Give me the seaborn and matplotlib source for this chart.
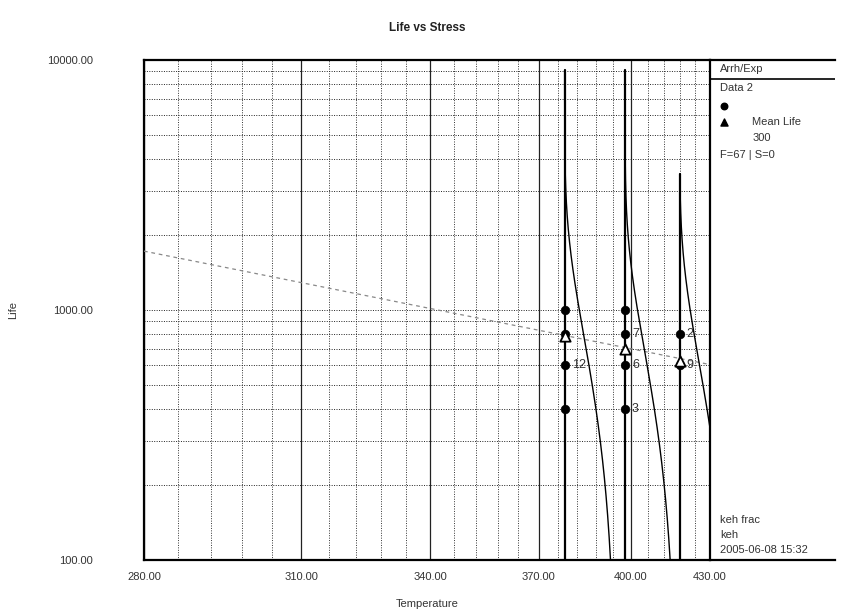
import numpy as np
import pandas as pd
import matplotlib
matplotlib.use("Agg")
import matplotlib.pyplot as plt
import seaborn as sns
from matplotlib.ticker import FixedLocator, FuncFormatter, LogLocator, NullFormatter

# ---------------- data ----------------
stress = [378, 378, 378, 378, 398, 398, 398, 398, 418, 418]
life = [1000, 800, 600, 400, 1000, 800, 600, 400, 800, 600]
point_labels = ["", "", "12", "", "", "7", "6", "3", "2", "9"]

stress_levels = [378, 398, 418]
mean_life = [790, 700, 625]
pdf_top = [9100, 9100, 3500]

line_T = [280, 430]
line_L = [1720, 605]

x_ticks = [280, 310, 340, 370, 400, 430]
y_ticks = [100, 1000, 10000]

# ---------------- style ----------------
sns.set_style("white")
plt.rcParams["font.family"] = ["Liberation Sans", "DejaVu Sans"]

fig = plt.figure(figsize=(8.42, 6.16), dpi=100)
W, H = 842, 616
ax = fig.add_axes([144 / W, 56 / H, 566 / W, 500 / H])


def fwd(T):
    with np.errstate(divide="ignore", invalid="ignore"):
        return -1.0 / np.asarray(T, dtype=float)


def inv(u):
    with np.errstate(divide="ignore", invalid="ignore"):
        return -1.0 / np.asarray(u, dtype=float)


ax.set_xscale("function", functions=(fwd, inv))
ax.set_yscale("log")
ax.set_xlim(280, 430)
ax.set_ylim(100, 10000)

minor_x = [t for t in range(280, 431, 6) if t not in x_ticks]
ax.xaxis.set_major_locator(FixedLocator(x_ticks))
ax.xaxis.set_minor_locator(FixedLocator(minor_x))
ax.xaxis.set_major_formatter(FuncFormatter(lambda v, p: f"{v:.2f}"))
ax.xaxis.set_minor_formatter(NullFormatter())
ax.yaxis.set_major_locator(FixedLocator(y_ticks))
ax.yaxis.set_minor_locator(LogLocator(base=10, subs=np.arange(2, 10)))
ax.yaxis.set_major_formatter(FuncFormatter(lambda v, p: f"{v:.2f}"))
ax.yaxis.set_minor_formatter(NullFormatter())

ax.grid(which="major", axis="x", color="#222222", lw=0.9, ls="-")
ax.grid(which="minor", axis="x", color="#333333", lw=0.7, ls=(0, (1, 1.5)))
ax.grid(which="both", axis="y", color="#222222", lw=0.7, ls=(0, (1, 1.5)))

ax.tick_params(axis="both", which="major", direction="out", length=6, width=1,
               color="black", labelsize=8, labelcolor="#333333")
ax.tick_params(axis="x", which="major", pad=3)
ax.tick_params(axis="y", which="major", pad=31)
ax.tick_params(which="minor", length=0)

for side in ["left", "bottom", "top"]:
    ax.spines[side].set_visible(True)
    ax.spines[side].set_color("black")
    ax.spines[side].set_linewidth(1.6)
ax.spines["right"].set_visible(False)

# fitted life line
ax.plot(line_T, line_L, color="#888888", lw=0.9, ls=(0, (3, 3)), zorder=3)

# pdf curves (exponential distribution with the mean life at each stress)
k = 0.0001145
for Ti, m, top in zip(stress_levels, mean_life, pdf_top):
    t = np.geomspace(100, top, 300)
    u = 1.0 / Ti - k * np.exp(-t / m)
    ax.plot(1.0 / u, t, color="black", lw=1.0, zorder=4)
    ax.plot([Ti, Ti], [100, top], color="black", lw=1.6, zorder=4)

# failure points
df = pd.DataFrame({"Temperature": stress, "Life": life})
sns.scatterplot(data=df, x="Temperature", y="Life", marker="o", s=38,
                color="black", edgecolor="black", ax=ax, zorder=6, legend=False)
for T, L, lab in zip(stress, life, point_labels):
    if lab:
        ax.annotate(lab, (T, L), xytext=(5, 0), textcoords="offset points",
                    va="center", ha="left", fontsize=9, color="#333333", zorder=7)

# mean life
dm = pd.DataFrame({"Temperature": stress_levels, "Life": mean_life})
sns.scatterplot(data=dm, x="Temperature", y="Life", marker="^", s=55,
                facecolor="white", edgecolor="black", linewidth=1.3, ax=ax,
                zorder=7, legend=False)

ax.set_xlabel("")
ax.set_ylabel("")

# titles / axis labels
fig.text(427 / W, 1 - 28 / H, "Life vs Stress", ha="center", va="center",
         fontsize=8.5, fontweight="bold", color="#222222")
fig.text(427 / W, 1 - 604 / H, "Temperature", ha="center", va="center",
         fontsize=8, color="#333333")
fig.text(13 / W, 1 - 310 / H, "Life", ha="center", va="center", rotation=90,
         fontsize=8, color="#333333")

# legend panel
lx = fig.add_axes([710 / W, 56 / H, 125 / W, 500 / H])
lx.set_xlim(0, 1)
lx.set_ylim(0, 1)
lx.set_xticks([])
lx.set_yticks([])
lx.set_facecolor("white")
for side in ["left", "bottom", "top"]:
    lx.spines[side].set_visible(True)
    lx.spines[side].set_color("black")
    lx.spines[side].set_linewidth(1.6)
lx.spines["right"].set_visible(False)
lx.plot([0, 1], [0.962, 0.962], color="black", lw=1.2)

fs = 8
tc = "#333333"
lx.text(0.08, 0.981, "Arrh/Exp", fontsize=fs, va="center", color=tc)
lx.text(0.08, 0.944, "Data 2", fontsize=fs, va="center", color=tc)
lx.scatter([0.11], [0.908], marker="o", s=22, color="black")
lx.scatter([0.11], [0.876], marker="^", s=26, color="black")
lx.text(0.34, 0.876, "Mean Life", fontsize=fs, va="center", color=tc)
lx.text(0.34, 0.844, "300", fontsize=fs, va="center", color=tc)
lx.text(0.08, 0.810, "F=67 | S=0", fontsize=fs, va="center", color=tc)
lx.text(0.08, 0.080, "keh frac", fontsize=fs, va="center", color=tc)
lx.text(0.08, 0.050, "keh", fontsize=fs, va="center", color=tc)
lx.text(0.08, 0.020, "2005-06-08 15:32", fontsize=fs, va="center", color=tc)

fig.savefig("out.png", dpi=100, facecolor="white")
